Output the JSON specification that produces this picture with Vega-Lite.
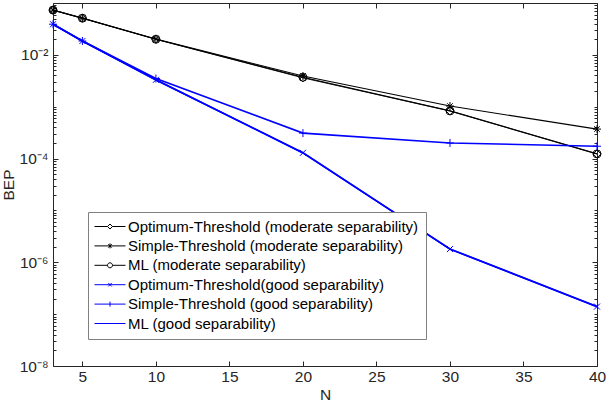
{
  "$schema": "https://vega.github.io/schema/vega-lite/v6.json",
  "width": 544,
  "height": 363,
  "autosize": {"type": "none"},
  "padding": {"left": 53, "top": 3, "right": 18, "bottom": 38},
  "background": "white",
  "config": {
    "view": {"stroke": null},
    "font": "Liberation Sans",
    "axis": {
      "grid": false,
      "domainColor": "#262626",
      "domainWidth": 1,
      "tickColor": "#262626",
      "tickWidth": 1,
      "labelColor": "#262626",
      "titleColor": "#262626",
      "labelFont": "Liberation Sans",
      "titleFont": "Liberation Sans",
      "labelFontSize": 15.5,
      "titleFontSize": 15.5,
      "titleFontWeight": "normal",
      "labelFlush": false,
      "labelOverlap": false
    }
  },
  "data": {
    "values": [
      {"series": "Optimum-Threshold (moderate separability)", "N": 3, "BEP": 0.073},
      {"series": "Optimum-Threshold (moderate separability)", "N": 5, "BEP": 0.051},
      {"series": "Optimum-Threshold (moderate separability)", "N": 10, "BEP": 0.02},
      {"series": "Optimum-Threshold (moderate separability)", "N": 20, "BEP": 0.0036},
      {"series": "Optimum-Threshold (moderate separability)", "N": 30, "BEP": 0.00083},
      {"series": "Optimum-Threshold (moderate separability)", "N": 40, "BEP": 0.000123},
      {"series": "Simple-Threshold (moderate separability)", "N": 3, "BEP": 0.073},
      {"series": "Simple-Threshold (moderate separability)", "N": 5, "BEP": 0.051},
      {"series": "Simple-Threshold (moderate separability)", "N": 10, "BEP": 0.0203},
      {"series": "Simple-Threshold (moderate separability)", "N": 20, "BEP": 0.0039},
      {"series": "Simple-Threshold (moderate separability)", "N": 30, "BEP": 0.00103},
      {"series": "Simple-Threshold (moderate separability)", "N": 40, "BEP": 0.00037},
      {"series": "ML (moderate separability)", "N": 3, "BEP": 0.073},
      {"series": "ML (moderate separability)", "N": 5, "BEP": 0.051},
      {"series": "ML (moderate separability)", "N": 10, "BEP": 0.02},
      {"series": "ML (moderate separability)", "N": 20, "BEP": 0.0037},
      {"series": "ML (moderate separability)", "N": 30, "BEP": 0.00083},
      {"series": "ML (moderate separability)", "N": 40, "BEP": 0.000123},
      {"series": "Optimum-Threshold(good separability)", "N": 3, "BEP": 0.039},
      {"series": "Optimum-Threshold(good separability)", "N": 5, "BEP": 0.0185},
      {"series": "Optimum-Threshold(good separability)", "N": 10, "BEP": 0.0033},
      {"series": "Optimum-Threshold(good separability)", "N": 20, "BEP": 0.000129},
      {"series": "Optimum-Threshold(good separability)", "N": 30, "BEP": 0.0000018},
      {"series": "Optimum-Threshold(good separability)", "N": 40, "BEP": 0.00000014},
      {"series": "Simple-Threshold (good separability)", "N": 3, "BEP": 0.039},
      {"series": "Simple-Threshold (good separability)", "N": 5, "BEP": 0.0185},
      {"series": "Simple-Threshold (good separability)", "N": 10, "BEP": 0.0035},
      {"series": "Simple-Threshold (good separability)", "N": 20, "BEP": 0.00031},
      {"series": "Simple-Threshold (good separability)", "N": 30, "BEP": 0.0002},
      {"series": "Simple-Threshold (good separability)", "N": 40, "BEP": 0.000173},
      {"series": "ML (good separability)", "N": 3, "BEP": 0.039},
      {"series": "ML (good separability)", "N": 5, "BEP": 0.0185},
      {"series": "ML (good separability)", "N": 10, "BEP": 0.0033},
      {"series": "ML (good separability)", "N": 20, "BEP": 0.000129},
      {"series": "ML (good separability)", "N": 30, "BEP": 0.0000018},
      {"series": "ML (good separability)", "N": 40, "BEP": 0.00000014}
    ]
  },
  "layer": [
    {
      "mark": {"type": "point", "opacity": 0},
      "encoding": {
        "x": {
          "field": "N", "type": "quantitative",
          "scale": {"domain": [3, 40], "nice": false, "zero": false},
          "axis": {"orient": "top", "values": [5, 10, 15, 20, 25, 30, 35, 40], "labels": false, "title": null, "tickSize": -5}
        },
        "y": {
          "field": "BEP", "type": "quantitative",
          "scale": {"type": "log", "domain": [1e-8, 0.1], "nice": false},
          "axis": {
            "orient": "right", "labels": false, "title": null,
            "values": [1e-8, 2e-8, 3e-8, 4e-8, 5e-8, 6e-8, 7e-8, 8e-8, 9e-8, 1e-7, 2e-7, 3e-7, 4e-7, 5e-7, 6e-7, 7e-7, 8e-7, 9e-7, 1e-6, 2e-6, 3e-6, 4e-6, 5e-6, 6e-6, 7e-6, 8e-6, 9e-6, 1e-5, 2e-5, 3e-5, 4e-5, 5e-5, 6e-5, 7e-5, 8e-5, 9e-5, 1e-4, 2e-4, 3e-4, 4e-4, 5e-4, 6e-4, 7e-4, 8e-4, 9e-4, 1e-3, 2e-3, 3e-3, 4e-3, 5e-3, 6e-3, 7e-3, 8e-3, 9e-3, 1e-2, 2e-2, 3e-2, 4e-2, 5e-2, 6e-2, 7e-2, 8e-2, 9e-2, 0.1],
            "tickSize": {"condition": {"test": "abs(log(datum.value)/LN10 - round(log(datum.value)/LN10)) < 0.001 && round(log(datum.value)/LN10) % 2 == 0", "value": -5}, "value": -3}
          }
        }
      }
    },
    {
      "mark": {"type": "line", "clip": false},
      "encoding": {
        "x": {
          "field": "N", "type": "quantitative",
          "scale": {"domain": [3, 40], "nice": false, "zero": false},
          "axis": {"orient": "bottom", "values": [5, 10, 15, 20, 25, 30, 35, 40], "title": "N", "tickSize": -5, "labelPadding": 8, "titlePadding": 3, "labelAngle": 0}
        },
        "y": {
          "field": "BEP", "type": "quantitative",
          "scale": {"type": "log", "domain": [1e-8, 0.1], "nice": false},
          "axis": {
            "orient": "left", "title": "BEP", "titlePadding": 3, "labelPadding": 10,
            "values": [1e-8, 2e-8, 3e-8, 4e-8, 5e-8, 6e-8, 7e-8, 8e-8, 9e-8, 1e-7, 2e-7, 3e-7, 4e-7, 5e-7, 6e-7, 7e-7, 8e-7, 9e-7, 1e-6, 2e-6, 3e-6, 4e-6, 5e-6, 6e-6, 7e-6, 8e-6, 9e-6, 1e-5, 2e-5, 3e-5, 4e-5, 5e-5, 6e-5, 7e-5, 8e-5, 9e-5, 1e-4, 2e-4, 3e-4, 4e-4, 5e-4, 6e-4, 7e-4, 8e-4, 9e-4, 1e-3, 2e-3, 3e-3, 4e-3, 5e-3, 6e-3, 7e-3, 8e-3, 9e-3, 1e-2, 2e-2, 3e-2, 4e-2, 5e-2, 6e-2, 7e-2, 8e-2, 9e-2, 0.1],
            "tickSize": {"condition": {"test": "abs(log(datum.value)/LN10 - round(log(datum.value)/LN10)) < 0.001 && round(log(datum.value)/LN10) % 2 == 0", "value": -5}, "value": -3},
            "labelExpr": "abs(log(datum.value)/LN10 - round(log(datum.value)/LN10)) > 0.001 ? '' : round(log(datum.value)/LN10) == -2 ? '10⁻²' : round(log(datum.value)/LN10) == -4 ? '10⁻⁴' : round(log(datum.value)/LN10) == -6 ? '10⁻⁶' : round(log(datum.value)/LN10) == -8 ? '10⁻⁸' : ''"
          }
        },
        "color": {
          "field": "series", "type": "nominal", "legend": null,
          "scale": {
            "domain": ["Optimum-Threshold (moderate separability)", "Simple-Threshold (moderate separability)", "ML (moderate separability)", "Optimum-Threshold(good separability)", "Simple-Threshold (good separability)", "ML (good separability)"],
            "range": ["#000000", "#000000", "#000000", "#0000ff", "#0000ff", "#0000ff"]
          }
        },
        "strokeWidth": {
          "field": "series", "type": "nominal", "legend": null,
          "scale": {
            "domain": ["Optimum-Threshold (moderate separability)", "Simple-Threshold (moderate separability)", "ML (moderate separability)", "Optimum-Threshold(good separability)", "Simple-Threshold (good separability)", "ML (good separability)"],
            "range": [0.9, 1.8, 0.9, 0.8, 1.8, 0.8]
          }
        }
      }
    },
    {
      "transform": [{"filter": "datum.series != 'ML (good separability)'"}],
      "mark": {"type": "point", "filled": false, "opacity": 1, "strokeWidth": 1, "size": 64, "clip": false},
      "encoding": {
        "x": {"field": "N", "type": "quantitative", "scale": {"domain": [3, 40], "nice": false, "zero": false}, "axis": null},
        "y": {"field": "BEP", "type": "quantitative", "scale": {"type": "log", "domain": [1e-8, 0.1], "nice": false}, "axis": null},
        "color": {
          "field": "series", "type": "nominal", "legend": null,
          "scale": {
            "domain": ["Optimum-Threshold (moderate separability)", "Simple-Threshold (moderate separability)", "ML (moderate separability)", "Optimum-Threshold(good separability)", "Simple-Threshold (good separability)", "ML (good separability)"],
            "range": ["#000000", "#000000", "#000000", "#0000ff", "#0000ff", "#0000ff"]
          }
        },
        "shape": {
          "field": "series", "type": "nominal", "legend": null,
          "scale": {
            "domain": ["Optimum-Threshold (moderate separability)", "Simple-Threshold (moderate separability)", "ML (moderate separability)", "Optimum-Threshold(good separability)", "Simple-Threshold (good separability)", "ML (good separability)"],
            "range": ["diamond", "M-1,0H1M0,-1V1M-0.7,-0.7L0.7,0.7M-0.7,0.7L0.7,-0.7", "circle", "M-0.75,-0.75L0.75,0.75M-0.75,0.75L0.75,-0.75", "M-1,0H1M0,-1V1", "M0,0"]
          }
        }
      }
    },
    {
      "transform": [{"filter": "false"}],
      "mark": {"type": "point", "filled": false, "opacity": 1, "strokeWidth": 1},
      "encoding": {
        "color": {
          "field": "series", "type": "nominal",
          "scale": {
            "domain": ["Optimum-Threshold (moderate separability)", "Simple-Threshold (moderate separability)", "ML (moderate separability)", "Optimum-Threshold(good separability)", "Simple-Threshold (good separability)", "ML (good separability)"],
            "range": ["#000000", "#000000", "#000000", "#0000ff", "#0000ff", "#0000ff"]
          },
          "legend": {"orient": "none", "legendX": 35, "legendY": 209, "title": null, "padding": 7, "strokeColor": "#808080", "fillColor": "white", "symbolSize": 100, "symbolStrokeWidth": 1, "labelFont": "Liberation Sans", "labelFontSize": 15, "labelColor": "#000000", "labelOffset": 18, "rowPadding": 3.4, "labelLimit": 500}
        },
        "shape": {
          "field": "series", "type": "nominal",
          "scale": {
            "domain": ["Optimum-Threshold (moderate separability)", "Simple-Threshold (moderate separability)", "ML (moderate separability)", "Optimum-Threshold(good separability)", "Simple-Threshold (good separability)", "ML (good separability)"],
            "range": [
              "M-1.6,0H1M2,0H4.6M1.5,-0.5L2,0L1.5,0.5L1,0Z",
              "M-1.6,0H4.6M1.5,-0.5V0.5M1.15,-0.35L1.85,0.35M1.15,0.35L1.85,-0.35",
              "M-1.6,0H1M2,0H4.6M2,0A0.5,0.5,0,1,1,1,0A0.5,0.5,0,1,1,2,0",
              "M-1.6,0H4.6M1.15,-0.35L1.85,0.35M1.15,0.35L1.85,-0.35",
              "M-1.6,0H4.6M1.5,-0.5V0.5",
              "M-1.6,0H4.6"
            ]
          },
          "legend": {"orient": "none", "legendX": 35, "legendY": 209, "title": null, "padding": 7, "strokeColor": "#808080", "fillColor": "white", "symbolSize": 100, "symbolStrokeWidth": 1, "labelFont": "Liberation Sans", "labelFontSize": 15, "labelColor": "#000000", "labelOffset": 18, "rowPadding": 3.4, "labelLimit": 500}
        }
      }
    }
  ],
  "resolve": {
    "axis": {"x": "independent", "y": "independent"},
    "scale": {"color": "independent", "shape": "independent", "strokeWidth": "independent"}
  }
}
